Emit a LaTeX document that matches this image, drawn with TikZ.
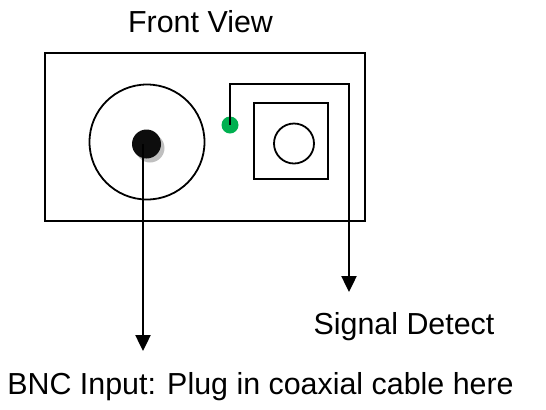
\documentclass[tikz,border=0pt]{standalone}
\usepackage{fontspec}
\setmainfont{Liberation Sans}
\usetikzlibrary{arrows.meta}
\definecolor{ledgreen}{RGB}{0,176,80}
\tikzset{
	outline/.style={draw, line width=1.2pt, inner sep=0pt},
	lead/.style={line width=1.2pt, -{Triangle[width=7.5pt,length=8pt]}},
	caption/.style={anchor=base, inner sep=0pt, font=\fontsize{15.2}{18}\selectfont}
}
\begin{document}
\begin{tikzpicture}[x=0.5pt,y=-0.5pt]
			\useasboundingbox (0,0) rectangle (546,409);

			% Draw the panel
			\node[outline, rectangle, minimum width=160pt, minimum height=84pt] (panel) at (205,137) {};
			\node[caption] (title) at (200.5,32) {Front View};

			% BNC connector
			\node[outline, circle, line width=0.9pt, minimum size=57.5pt] (ring) at (147,142) {};
			\node[circle, fill=black!25, inner sep=0pt, minimum size=14.5pt] (shadow) at (150,148) {};
			\node[circle, fill=black!95, inner sep=0pt, minimum size=14.5pt] (pin) at (146.5,144) {};

			% Signal detect LED and jack
			\node[circle, fill=ledgreen, inner sep=0pt, minimum size=8.5pt] (led) at (230,125) {};
			\node[outline, rectangle, line width=0.9pt, minimum width=37pt, minimum height=38pt] (jackbox) at (291,141) {};
			\node[outline, circle, line width=0.9pt, minimum size=20pt] (jack) at (294,143.5) {};

			% Draw the leads
			\coordinate (bncend) at (143,351);
			\coordinate (bend) at (349,84);
			\coordinate (sigend) at (349,292);
			\draw[lead] (bncend |- pin.center) -- (bncend);
			\draw[lead] (led.center) |- (bend) -- (sigend);

			% Label the leads
			\node[caption] (sigtext) at (404,334) {Signal Detect};
			\node[caption] (bnctext) at (260.5,394) {BNC Input: Plug in coaxial cable here};
		\end{tikzpicture}
\end{document}
